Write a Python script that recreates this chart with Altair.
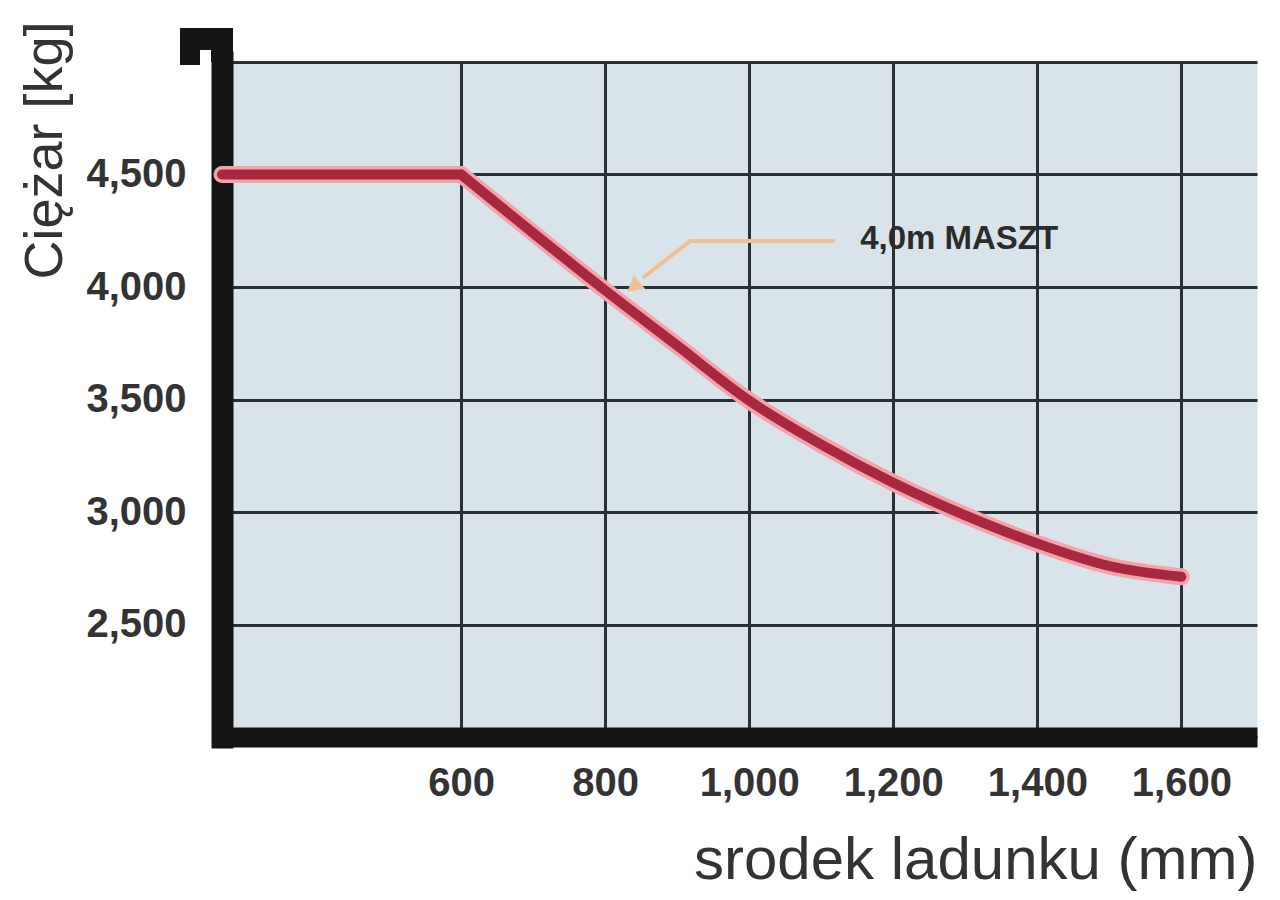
import altair as alt
import pandas as pd

# ---- data ----
dist_mm = [268, 600, 700, 800, 900, 1000, 1100, 1200, 1300, 1400, 1500, 1600]
load_kg = [4500, 4500, 4240, 3985, 3740, 3495, 3300, 3130, 2985, 2860, 2760, 2712]

x_ticks = [600, 800, 1000, 1200, 1400, 1600]
y_ticks = [2000, 2500, 3000, 3500, 4000, 4500, 5000]

label_text = ["4,0m MASZT"]
label_x = [1154]
label_y = [4215]

arrow_x = [1119, 918, 852]
arrow_y = [4204, 4204, 4040]
arrow_head_x = [842]
arrow_head_y = [4008]

# flat part and curved part share the 600 mm point
rows = []
for i, (d, w) in enumerate(zip(dist_mm, load_kg)):
    if i <= 1:
        rows.append({"mm": d, "kg": w, "seg": "flat", "o": i})
    if i >= 1:
        rows.append({"mm": d, "kg": w, "seg": "curve", "o": i})
line_df = pd.DataFrame(rows)

arrow_df = pd.DataFrame({"mm": arrow_x, "kg": arrow_y, "o": list(range(len(arrow_x)))})
head_df = pd.DataFrame({"mm": arrow_head_x, "kg": arrow_head_y})
text_df = pd.DataFrame({"mm": label_x, "kg": label_y, "t": label_text})
one = pd.DataFrame({"k": [0]})

LAB = "'Liberation Sans', Arial, sans-serif"
REG = "'Liberation Sans', Arial, sans-serif"
GRID = "#263035"
INK = "#151515"

xs = alt.Scale(domain=[268, 1705], nice=False, zero=False)
ys = alt.Scale(domain=[2000, 5000], nice=False, zero=False)

x_axis = alt.Axis(
    values=x_ticks, format=",d", title="srodek ladunku (mm)",
    labelOverlap=False,
    grid=True, gridColor=GRID, gridWidth=3, gridOpacity=1,
    ticks=False, domainColor=INK, domainWidth=20,
    labelFont=LAB, labelFontSize=40, labelFontWeight="bold", labelColor="#333333",
    labelPadding=26,
    titleFont=REG, titleFontSize=60, titleFontWeight="normal", titleColor="#333333",
    titleX=1035, titleY=123, titleAlign="right", titleBaseline="middle",
)
y_axis = alt.Axis(
    values=y_ticks, title="Ciężar [kg]",
    labelExpr="(datum.value == 2000 || datum.value == 5000) ? '' : format(datum.value, ',d')",
    labelOverlap=False,
    grid=True, gridColor=GRID, gridWidth=3, gridOpacity=1,
    ticks=False, domainColor=INK, domainWidth=22, domainCap="square",
    labelFont=LAB, labelFontSize=40, labelFontWeight="bold", labelColor="#333333",
    labelPadding=36,
    titleFont=REG, titleFontSize=54, titleFontWeight="normal", titleColor="#333333",
    titleAngle=270, titleX=-177, titleY=88, titleAlign="center", titleBaseline="middle",
)

halo = alt.Chart(line_df).mark_line(
    interpolate="monotone", color="#f4a3ad", strokeWidth=17, strokeCap="round"
).encode(
    x=alt.X("mm:Q", scale=xs, axis=x_axis),
    y=alt.Y("kg:Q", scale=ys, axis=y_axis),
    detail="seg:N",
    order="o:Q",
)
core = alt.Chart(line_df).mark_line(
    interpolate="monotone", color="#a8283f", strokeWidth=10, strokeCap="round"
).encode(
    x=alt.X("mm:Q", scale=xs),
    y=alt.Y("kg:Q", scale=ys),
    detail="seg:N",
    order="o:Q",
)

arrow = alt.Chart(arrow_df).mark_line(
    color="#f0c190", strokeWidth=4, strokeJoin="miter"
).encode(
    x=alt.X("mm:Q", scale=xs), y=alt.Y("kg:Q", scale=ys), order="o:Q"
)
head = alt.Chart(head_df).mark_point(
    shape="triangle", filled=True, color="#f0c190", size=320, angle=230, opacity=1
).encode(x=alt.X("mm:Q", scale=xs), y=alt.Y("kg:Q", scale=ys))

label = alt.Chart(text_df).mark_text(
    align="left", baseline="middle", font=LAB, fontSize=33, fontWeight="bold",
    color="#2b2b2b"
).encode(x=alt.X("mm:Q", scale=xs), y=alt.Y("kg:Q", scale=ys), text="t:N")

# decorative top of the left axis bar
bar_top = alt.Chart(one).mark_rule(color=INK, strokeWidth=22).encode(
    x=alt.value(0), y=alt.value(-34), y2=alt.value(0)
)
cap_h = alt.Chart(one).mark_rule(color=INK, strokeWidth=22).encode(
    x=alt.value(-42), x2=alt.value(11), y=alt.value(-23)
)
cap_v = alt.Chart(one).mark_rule(color=INK, strokeWidth=20).encode(
    x=alt.value(-32), y=alt.value(-34), y2=alt.value(3)
)

chart = alt.layer(
    halo, core, arrow, head, label, bar_top, cap_h, cap_v
).properties(
    width=1035, height=675,
    autosize=alt.AutoSizeParams(type="none"),
    padding={"left": 214, "top": 54, "right": 15, "bottom": 158},
    background="white",
).configure_view(
    fill="#d9e4ea", stroke="transparent"
)

chart.save("out.html", embed_options={"renderer": "svg", "actions": False})
